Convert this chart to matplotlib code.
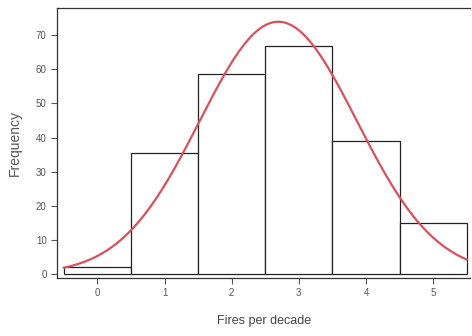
import numpy as np
import matplotlib.pyplot as plt

plt.rcParams['font.family'] = ['Liberation Sans Narrow', 'Liberation Sans', 'DejaVu Sans']

fires = np.array([0, 1, 2, 3, 4, 5])
counts = np.array([2.0, 35.5, 58.5, 67.0, 39.0, 15.0])

# fitted normal curve from the histogram
n = counts.sum()
mu = (fires * counts).sum() / n
sd = np.sqrt((counts * (fires - mu) ** 2).sum() / n)
xs = np.linspace(-0.5, 5.5, 300)
ys = n / (sd * np.sqrt(2 * np.pi)) * np.exp(-0.5 * ((xs - mu) / sd) ** 2)

fig = plt.figure(figsize=(4.72, 3.36), dpi=100)
ax = fig.add_axes([0.121, 0.173, 0.875, 0.803])

ax.bar(fires, counts, width=1.0, color='white', edgecolor='#222222', linewidth=0.9)
ax.plot(xs, ys, color='#d9505e', linewidth=1.6)

ax.set_xlim(-0.6, 5.55)
ax.set_ylim(-1.2, 78)
ax.set_xticks(fires)
ax.set_yticks(np.arange(0, 71, 10))
ax.tick_params(labelsize=7, colors='#555555', length=4, width=0.8)
for s in ['left', 'bottom', 'top']:
    ax.spines[s].set_color('#333333')
    ax.spines[s].set_linewidth(0.9)
ax.spines['right'].set_visible(False)

ax.set_xlabel('Fires per decade', fontsize=9, color='#444444', labelpad=12)
ax.set_ylabel('Frequency', fontsize=10, color='#555555', labelpad=10)

plt.savefig('out.png', dpi=100)
